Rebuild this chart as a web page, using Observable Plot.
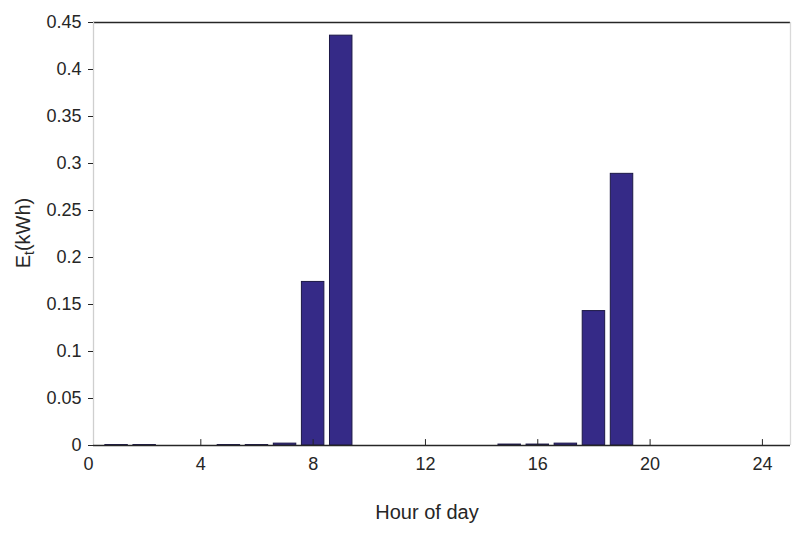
<!DOCTYPE html>
<html>
<head>
<meta charset="utf-8">
<script src="https://cdn.jsdelivr.net/npm/d3@7"></script>
<script src="https://cdn.jsdelivr.net/npm/@observablehq/plot@0.6"></script>
<style>
  html, body { margin: 0; padding: 0; background: #fff; }
  #chart { width: 807px; height: 535px; }
</style>
</head>
<body>
<div id="chart"></div>
<script>
// Data
const hours  = [1, 2, 3, 4, 5, 6, 7, 8, 9, 10, 11, 12, 13, 14, 15, 16, 17, 18, 19, 20, 21, 22, 23, 24];
const energy = [0.0005, 0.0005, 0, 0, 0.0005, 0.0005, 0.002, 0.174, 0.436, 0, 0, 0, 0, 0,
                0.001, 0.001, 0.002, 0.143, 0.289, 0, 0, 0, 0, 0];
const xTicks = [0, 4, 8, 12, 16, 20, 24];
const yTicks = [0, 0.05, 0.1, 0.15, 0.2, 0.25, 0.3, 0.35, 0.4, 0.45];
const xLimits = [0, 25];
const yLimits = [0, 0.45];
const barWidth = 0.8;

const data = hours.map((h, i) => ({hour: h, value: energy[i]}));

const font = "'Liberation Sans', Arial, sans-serif";
const textColor = "#262626";

// upward tick shape for inward x ticks
const upTick = {draw(context, l) { context.moveTo(0, 0); context.lineTo(0, -l); }};

const chart = Plot.plot({
  width: 807,
  height: 535,
  marginLeft: 88,
  marginRight: 17,
  marginTop: 22,
  marginBottom: 90,
  style: {fontFamily: font, fontSize: "18px", color: textColor, background: "#fff"},
  x: {domain: xLimits, label: null},
  y: {domain: yLimits, label: null},
  marks: [
    // frame: top dark, right light, left light
    Plot.ruleY([yLimits[1]], {stroke: "#262626", strokeWidth: 1.3, insetLeft: 5}),
    Plot.ruleX([xLimits[1]], {stroke: "#d9d9d9", strokeWidth: 1.3}),
    Plot.ruleX([xLimits[0]], {stroke: "#cfcfcf", strokeWidth: 1.3, dx: 5}),
    Plot.rectY(data.filter(d => d.value > 0), {
      x1: d => d.hour - barWidth / 2,
      x2: d => d.hour + barWidth / 2,
      y1: 0,
      y2: "value",
      fill: "#352a87",
      stroke: "#1c1846",
      strokeWidth: 1
    }),
    // inward x ticks
    Plot.vector(xTicks.filter(t => t > xLimits[0]), {
      x: d => d, y: () => 0, length: 6, shape: upTick, anchor: "start",
      stroke: "#262626", strokeWidth: 1
    }),
    Plot.ruleY([0], {stroke: "#262626", strokeWidth: 1.3, insetLeft: 5}),
    // x axis labels
    Plot.axisX({ticks: xTicks, tickSize: 0, tickPadding: 12, tickFormat: d => String(d),
                fill: textColor, fontSize: 18}),
    // y axis
    Plot.axisY({ticks: yTicks, tickSize: 5, tickPadding: 7, dx: 5,
                tickFormat: d => String(+d.toFixed(2)), stroke: "#262626", fill: textColor, fontSize: 18})
  ]
});

document.getElementById("chart").appendChild(chart);

// Axis titles
const svg = d3.select(chart);
svg.append("text")
  .attr("x", 427)
  .attr("y", 519)
  .attr("text-anchor", "middle")
  .attr("font-family", font)
  .attr("font-size", 20)
  .attr("fill", textColor)
  .text("Hour of day");

const yl = svg.append("text")
  .attr("transform", "translate(30,233) rotate(-90)")
  .attr("text-anchor", "middle")
  .attr("font-family", font)
  .attr("font-size", 20)
  .attr("fill", textColor);
yl.append("tspan").text("E");
yl.append("tspan").attr("font-size", 14).attr("dy", 4).text("t");
yl.append("tspan").attr("dy", -4).text("(kWh)");
</script>
</body>
</html>
